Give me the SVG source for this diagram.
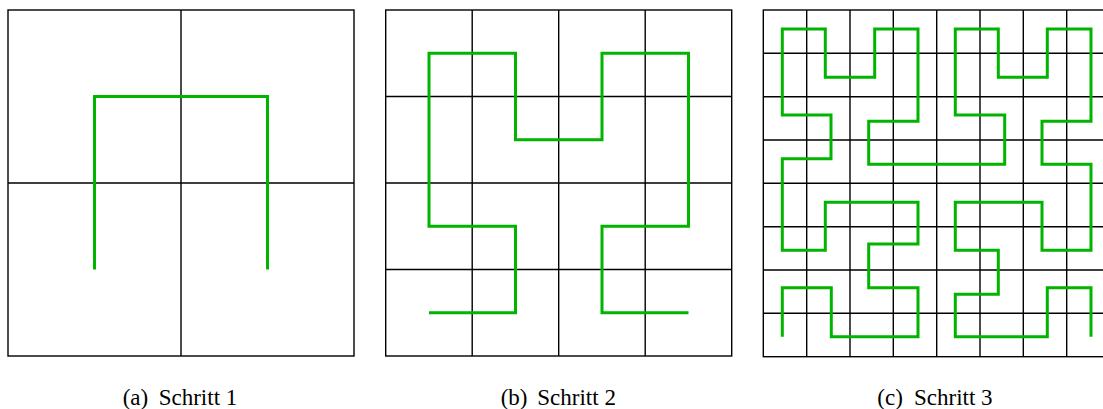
<svg xmlns="http://www.w3.org/2000/svg" width="1103" height="409" viewBox="0 0 1103 409">
<style>
.grid{fill:none;stroke:#000;stroke-width:1.4}
.curve{fill:none;stroke:#00b400;stroke-width:3;stroke-linecap:butt;stroke-linejoin:miter}
.cap{font-family:"Liberation Serif","Times New Roman",serif;font-size:23px;fill:#000}
</style>
<rect width="1103" height="409" fill="#fff"/>
<g id="panel-a">
<rect class="grid" x="8" y="10" width="346" height="346"/>
<path class="grid" d="M181,10V356M8,183H354"/>
<path class="curve" d="M94.5,269.5V96.5H267.5V269.5"/>
</g>
<g id="panel-b">
<rect class="grid" x="385.7" y="10" width="346" height="346"/>
<path class="grid" d="M472.2,10V356M558.7,10V356M645.2,10V356M385.7,96.5H731.7M385.7,183H731.7M385.7,269.5H731.7"/>
<path class="curve" d="M429,312.8H515.5V226.3H429V53.3H515.5V139.8H602V53.3H688.5V226.3H602V312.8H688.5"/>
</g>
<g id="panel-c">
<rect class="grid" x="763.3" y="10" width="346.7" height="346.7"/>
<path class="grid" d="M806.7,10V356.7M850,10V356.7M893.3,10V356.7M936.7,10V356.7M980,10V356.7M1023.3,10V356.7M1066.7,10V356.7M763.3,53.3H1110M763.3,96.7H1110M763.3,140H1110M763.3,183.3H1110M763.3,226.7H1110M763.3,270H1110M763.3,313.3H1110"/>
<path class="curve" d="M782.3,336.7V287.7H831.3V336.7H918V287.7H868.7V244H918V202.3H825.3V250.3H782.3V158.7H831V115H782.3V29H825.3V77.3H874.7V29H918V121.3H868.7V164.3H1004.7V115H955.3V29H998.3V77.3H1047.3V29H1091V121.3H1042V164.3H1091V250.3H1042V202.3H955.3V250.3H998.3V294.3H955.3V336.7H1047.3V287.7H1091V336.7"/>
</g>
<g id="captions">
<text class="cap" y="404.5"><tspan x="122.7">(a)</tspan><tspan x="158.7">Schritt 1</tspan></text>
<text class="cap" y="404.5"><tspan x="500.7">(b)</tspan><tspan x="537.3">Schritt 2</tspan></text>
<text class="cap" y="404.5"><tspan x="877.3">(c)</tspan><tspan x="914">Schritt 3</tspan></text>
</g>
</svg>
